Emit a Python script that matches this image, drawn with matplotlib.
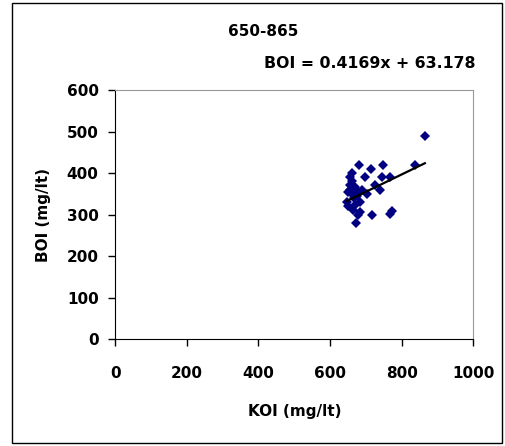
import matplotlib
matplotlib.use("Agg")
import matplotlib.pyplot as plt
import numpy as np
from matplotlib.patches import Rectangle

plt.rcParams['font.family'] = ['DejaVu Sans']

koi = [865, 837, 681, 749, 714, 660, 656, 697, 744, 767, 725, 739,
       656, 670, 651, 679, 665, 688, 702, 684, 646, 651, 670, 665,
       684, 679, 716, 772, 767, 672, 660, 668, 655, 675, 662]
boi = [490, 420, 420, 420, 410, 400, 391, 391, 391, 391, 371, 360,
       371, 366, 355, 355, 347, 359, 350, 331, 331, 320, 323, 311,
       307, 300, 300, 309, 302, 281, 362, 340, 360, 345, 380]

slope = 0.4169
intercept = 63.178
title = "650-865"
equation = "BOI = 0.4169x + 63.178"
xticks = [0, 200, 400, 600, 800, 1000]
yticks = [0, 100, 200, 300, 400, 500, 600]

fig = plt.figure(figsize=(5.05, 4.46), dpi=100)
ax = fig.add_axes([0.2284, 0.2392, 0.7086, 0.5590])

ax.plot(koi, boi, linestyle='none', marker='D', markersize=5.5,
        color='#000080', markeredgewidth=0, zorder=3)
xl = np.array([min(koi), max(koi)])
ax.plot(xl, slope * xl + intercept, color='black', linewidth=1.6, zorder=4)

ax.set_xlim(0, 1000)
ax.set_ylim(0, 600)
ax.set_xticks(xticks)
ax.set_yticks(yticks)
ax.tick_params(direction='out', length=5, width=1, colors='black',
               labelsize=11)
ax.tick_params(axis='x', pad=14)
ax.tick_params(axis='y', pad=7)
for lab in ax.get_xticklabels() + ax.get_yticklabels():
    lab.set_fontweight('bold')
ax.spines['top'].set_color('#999999')
ax.spines['right'].set_color('#999999')
ax.spines['left'].set_color('black')
ax.spines['bottom'].set_color('black')

ax.set_xlabel("KOI (mg/lt)", fontsize=11, fontweight='bold', labelpad=17)
ax.set_ylabel("BOI (mg/lt)", fontsize=11, fontweight='bold', labelpad=11)

fig.text(263 / 505, 1 - 32 / 446, title, ha='center', va='center',
         fontsize=11, fontweight='bold')
fig.text(476 / 505, 1 - 63 / 446, equation, ha='right', va='center',
         fontsize=11.3, fontweight='bold')

fig.patches.append(Rectangle((12 / 505, 3 / 446), 490 / 505, 440 / 446,
                             transform=fig.transFigure, fill=False,
                             edgecolor='black', linewidth=1))

fig.savefig("out.png", dpi=100)
